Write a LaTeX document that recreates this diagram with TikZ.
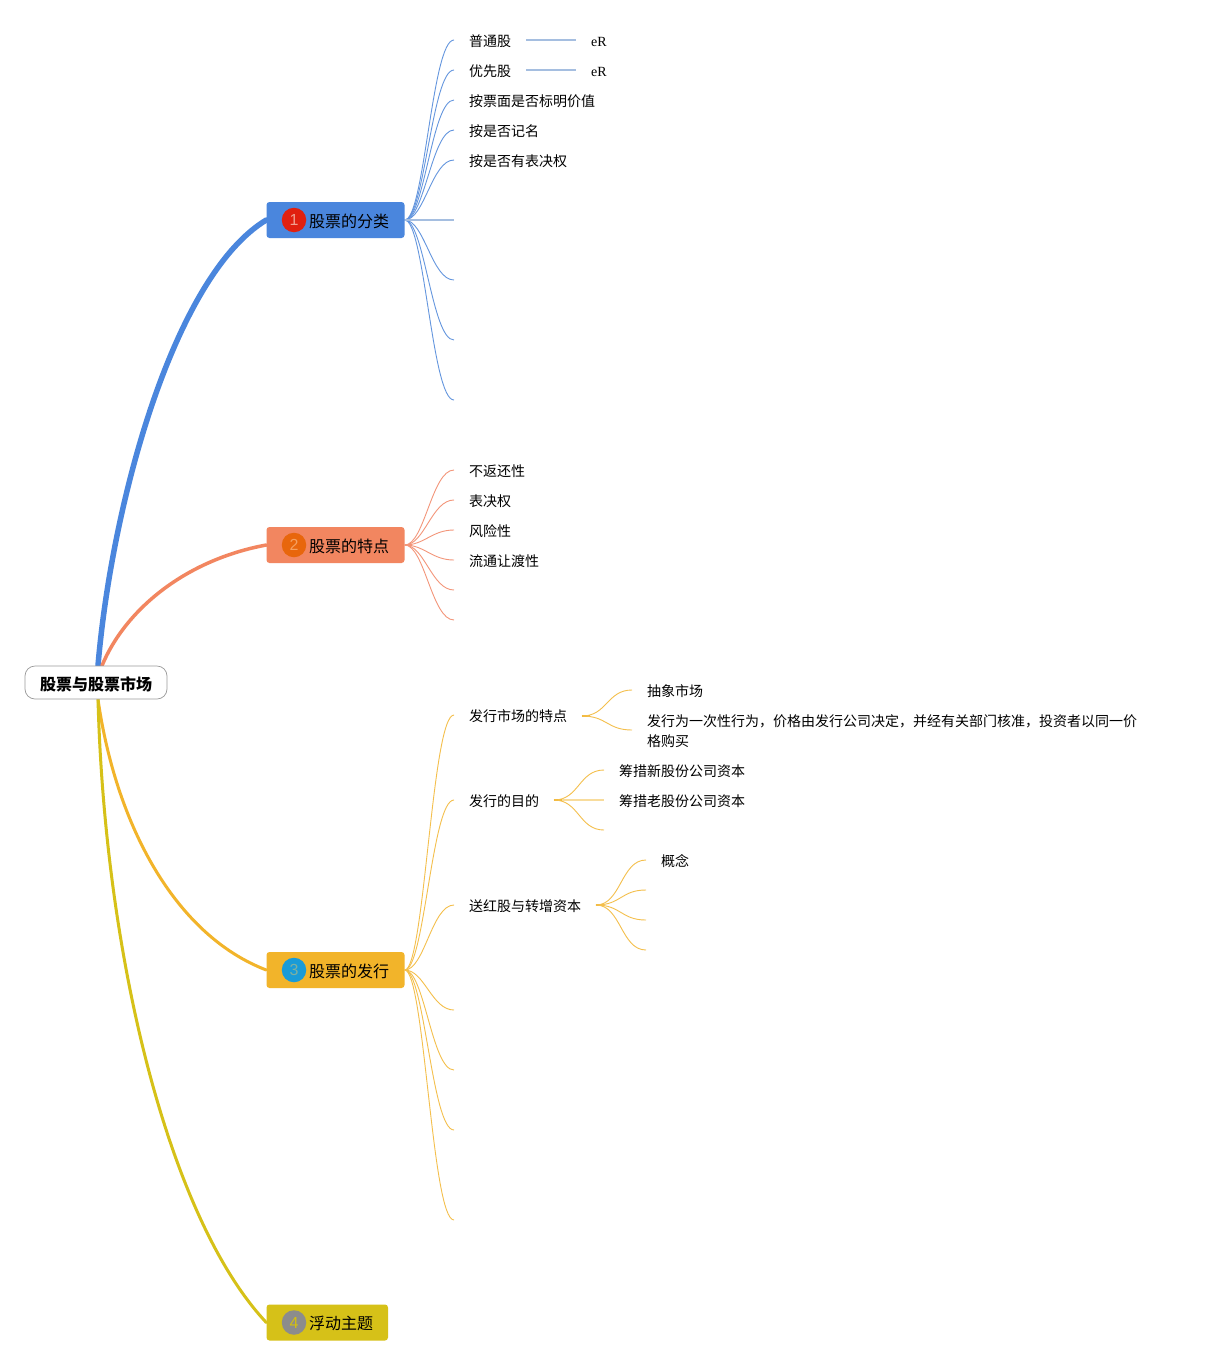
\documentclass[tikz,border=0pt]{standalone}
\usepackage{fontspec}
\setmainfont{Noto Sans CJK SC}
\newfontfamily\latinserif{Liberation Serif}
\newfontfamily\latinsans{Liberation Sans}
\usetikzlibrary{calc,backgrounds}
\definecolor{cblue}{HTML}{4A86DD}
\definecolor{corange}{HTML}{F28660}
\definecolor{camber}{HTML}{F2B42A}
\definecolor{cyellow}{HTML}{D6C118}
\definecolor{tblue}{HTML}{6496DE}
\definecolor{torange}{HTML}{F3967A}
\definecolor{tamber}{HTML}{F4BF4C}
\definecolor{lblue}{HTML}{A5BEE0}
\definecolor{lamber}{HTML}{F8DC9C}
\definecolor{bred}{HTML}{E0200F}
\definecolor{bredt}{HTML}{F0A090}
\definecolor{borange}{HTML}{E8660C}
\definecolor{boranget}{HTML}{F5A060}
\definecolor{bcyan}{HTML}{1A9BD7}
\definecolor{bcyant}{HTML}{7FB0A0}
\definecolor{bgrey}{HTML}{8C8C8C}
\definecolor{bgreyt}{HTML}{D4C010}
\tikzset{
  x=1pt,y=-1pt,
  branchbox/.style={rectangle,rounded corners=3pt,minimum height=36pt,inner sep=0pt,draw=none},
  badge/.style={circle,minimum size=24.5pt,inner sep=0pt,font=\latinsans\fontsize{16}{16}\selectfont},
  maintext/.style={anchor=west,inner sep=0pt,font=\fontsize{16}{20}\selectfont,text=black},
  leaf/.style={anchor=west,inner sep=0pt,font=\fontsize{14}{20}\selectfont,text=black},
  latinleaf/.style={anchor=west,inner sep=0pt,font=\latinserif\fontsize{14}{20}\selectfont,text=black},
  twigline/.style={line width=0.9pt},
  limb/.style={line cap=round,line width=#1}
}
% slim curve of a first-level fan
\newcommand{\twig}[3]{\draw[twigline,#1] let \p1=(#2),\p2=(#3) in (\p1) .. controls ({\x1+0.4*(\x2-\x1)},\y1) and ({\x1+0.55*(\x2-\x1)},\y2) .. (\p2);}
% S curve of a second-level fan
\newcommand{\scurve}[3]{\draw[twigline,#1] let \p1=(#2),\p2=(#3) in (\p1) .. controls ({0.5*(\x1+\x2)},\y1) and ({0.5*(\x1+\x2)},\y2) .. (\p2);}
\begin{document}
\begin{tikzpicture}
\useasboundingbox (0,0) rectangle (1207,1365);

% root and branches
\node[draw=black!40,fill=white,rounded corners=10pt,line width=0.7pt,minimum width=142pt,minimum height=33pt,inner sep=0pt] (root) at (96,682.5) {};
\node[inner sep=0pt,font=\bfseries\fontsize{16}{20}\selectfont] (roottext) at (96,684) {股票与股票市场};
\node[branchbox,fill=cblue,minimum width=138pt] (b1) at (335.5,220) {};
\node[branchbox,fill=corange,minimum width=138pt] (b2) at (335.5,545) {};
\node[branchbox,fill=camber,minimum width=138pt] (b3) at (335.5,970) {};
\node[branchbox,fill=cyellow,minimum width=121.5pt] (b4) at (327.25,1322.5) {};

\node[badge,fill=bred,text=bredt] (n1) at (294,220) {1};
\node[badge,fill=borange,text=boranget] (n2) at (294,545) {2};
\node[badge,fill=bcyan,text=bcyant] (n3) at (294,970) {3};
\node[badge,fill=bgrey,text=bgreyt] (n4) at (294,1322.5) {4};
\node[maintext] (t1) at (309,221) {股票的分类};
\node[maintext] (t2) at (309,546) {股票的特点};
\node[maintext] (t3) at (309,971) {股票的发行};
\node[maintext] (t4) at (309,1323) {浮动主题};

\begin{scope}[on background layer]
\fill[white] (0,0) rectangle (1207,1365);
\draw[limb=5.5pt,cblue] ([xshift=2pt]root.north) .. controls (112,500) and (175,275) .. (b1.west);
\draw[limb=3.5pt,corange] ([xshift=6pt]root.north) .. controls (125,610) and (185,560) .. (b2.west);
\draw[limb=3pt,camber] ([xshift=2pt]root.south) .. controls (116,825) and (175,935) .. (b3.west);
\draw[limb=3pt,cyellow] ([xshift=2pt]root.south) .. controls (105,960) and (170,1220) .. (b4.west);
\end{scope}

% branch 1
\foreach \v in {40,70,100,130,160,220,280,340,400} {\coordinate (a\v) at (454,\v);}
\foreach \v in {40,70,100,130,160,280,340,400} {\twig{tblue}{b1.east}{a\v}}
\draw[line width=1.2pt,lblue] (b1.east) -- (a220);
\node[leaf] (l1) at (469,41) {普通股};
\node[leaf] (l2) at (469,71) {优先股};
\node[leaf] (l3) at (469,101) {按票面是否标明价值};
\node[leaf] (l4) at (469,131) {按是否记名};
\node[leaf] (l5) at (469,161) {按是否有表决权};
\node[latinleaf] (e1) at (591,41.5) {eR};
\node[latinleaf] (e2) at (591,71.5) {eR};
\coordinate (s1) at (526,40); \coordinate (f1) at (576,40);
\coordinate (s2) at (526,70); \coordinate (f2) at (576,70);
\draw[line width=1.2pt,lblue] (s1) -- (f1);
\draw[line width=1.2pt,lblue] (s2) -- (f2);

% branch 2
\foreach \v in {470,500,530,560,590,620} {\coordinate (o\v) at (454,\v); \twig{torange}{b2.east}{o\v}}
\node[leaf] (m1) at (469,471) {不返还性};
\node[leaf] (m2) at (469,501) {表决权};
\node[leaf] (m3) at (469,531) {风险性};
\node[leaf] (m4) at (469,561) {流通让渡性};

% branch 3
\foreach \v in {715,800,905,1010,1070,1130,1220} {\coordinate (g\v) at (454,\v); \twig{tamber}{b3.east}{g\v}}
\node[leaf] (p1) at (469,716) {发行市场的特点};
\node[leaf] (p2) at (469,801) {发行的目的};
\node[leaf] (p3) at (469,906) {送红股与转增资本};

\coordinate (h1) at (582,716);
\coordinate (h1e) at (590,716);
\coordinate (h1a) at (632,690);
\coordinate (h1b) at (632,730);
\draw[line width=1.3pt,camber] (h1) -- (h1e);
\scurve{tamber}{h1}{h1a}
\scurve{tamber}{h1}{h1b}
\node[leaf] (q1) at (647,691) {抽象市场};
\node[leaf,anchor=north west,align=left,text width=500pt] (q2) at (647,714.5) {发行为一次性行为，价格由发行公司决定，并经有关部门核准，投资者以同一价\\格购买};

\coordinate (h2) at (554,800);
\coordinate (h2e) at (562,800);
\coordinate (h2a) at (604,770);
\coordinate (h2b) at (604,800);
\coordinate (h2c) at (604,830);
\draw[line width=1.3pt,camber] (h2) -- (h2e);
\scurve{tamber}{h2}{h2a}
\scurve{tamber}{h2}{h2c}
\draw[line width=1.2pt,lamber] (h2e) -- (h2b);
\node[leaf] (q3) at (619,771) {筹措新股份公司资本};
\node[leaf] (q4) at (619,801) {筹措老股份公司资本};

\coordinate (h3) at (596,905);
\coordinate (h3e) at (604,905);
\coordinate (h3a) at (646,860);
\coordinate (h3b) at (646,890);
\coordinate (h3c) at (646,920);
\coordinate (h3d) at (646,950);
\draw[line width=1.3pt,camber] (h3) -- (h3e);
\scurve{tamber}{h3}{h3a}
\scurve{tamber}{h3}{h3b}
\scurve{tamber}{h3}{h3c}
\scurve{tamber}{h3}{h3d}
\node[leaf] (q5) at (661,861) {概念};
\end{tikzpicture}
\end{document}
